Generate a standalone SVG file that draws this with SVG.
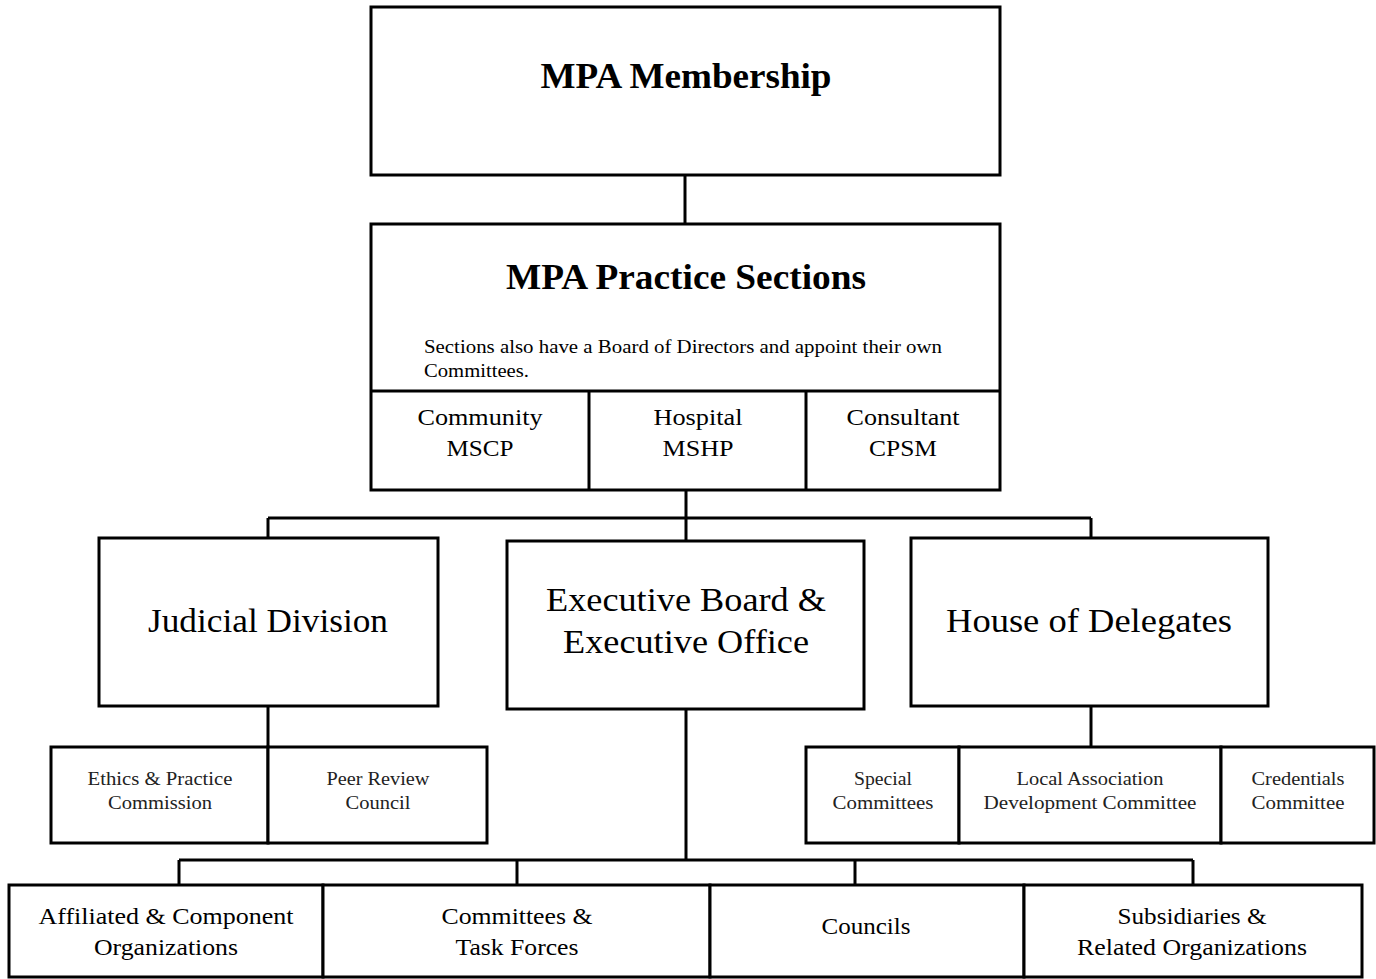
<svg xmlns="http://www.w3.org/2000/svg" width="1376" height="979" viewBox="0 0 1376 979">
<style>
.box{fill:#fff;stroke:#000;stroke-width:3}
.ln{fill:none;stroke:#000;stroke-width:3}
text{font-family:"Liberation Serif","Times New Roman",serif;fill:#000;text-anchor:middle}
.h1{font-size:36px;font-weight:bold}
.h2{font-size:34px}
.m{font-size:24px}
.s{font-size:18px;fill:#222}
.n{font-size:18px;text-anchor:start}
</style>
<rect width="1376" height="979" fill="#fff"/>
<g id="connectors">
<path class="ln" d="M685 175V224"/>
<path class="ln" d="M686 490V518M268 518H1091M268 518V538M686 518V541M1091 518V538"/>
<path class="ln" d="M268 706V747"/>
<path class="ln" d="M1091 706V747"/>
<path class="ln" d="M686 709V860M179 860H1193M179 860V885M517 860V885M855 860V885M1193 860V885"/>
</g>
<g id="membership">
<rect class="box" x="371" y="7" width="629" height="168"/>
<text class="h1" x="686" y="88" textLength="291" lengthAdjust="spacingAndGlyphs">MPA Membership</text>
</g>
<g id="practice-sections">
<rect class="box" x="371" y="224" width="629" height="266"/>
<path class="ln" d="M371 391H1000M589 391V490M806 391V490"/>
<text class="h1" x="686" y="289" textLength="360" lengthAdjust="spacingAndGlyphs">MPA Practice Sections</text>
<text class="n" x="424" y="353" textLength="518" lengthAdjust="spacingAndGlyphs">Sections also have a Board of Directors and appoint their own</text>
<text class="n" x="424" y="377" textLength="105" lengthAdjust="spacingAndGlyphs">Committees.</text>
</g>
<g id="community">
<text class="m" x="480" y="425" textLength="125" lengthAdjust="spacingAndGlyphs">Community</text>
<text class="m" x="480" y="456" textLength="67" lengthAdjust="spacingAndGlyphs">MSCP</text>
</g>
<g id="hospital">
<text class="m" x="698" y="425" textLength="89" lengthAdjust="spacingAndGlyphs">Hospital</text>
<text class="m" x="698" y="456" textLength="71" lengthAdjust="spacingAndGlyphs">MSHP</text>
</g>
<g id="consultant">
<text class="m" x="903" y="425" textLength="113" lengthAdjust="spacingAndGlyphs">Consultant</text>
<text class="m" x="903" y="456" textLength="68" lengthAdjust="spacingAndGlyphs">CPSM</text>
</g>
<g id="judicial">
<rect class="box" x="99" y="538" width="339" height="168"/>
<text class="h2" x="268" y="632" textLength="240" lengthAdjust="spacingAndGlyphs">Judicial Division</text>
</g>
<g id="executive">
<rect class="box" x="507" y="541" width="357" height="168"/>
<text class="h2" x="686" y="611" textLength="280" lengthAdjust="spacingAndGlyphs">Executive Board &amp;</text>
<text class="h2" x="686" y="653" textLength="246" lengthAdjust="spacingAndGlyphs">Executive Office</text>
</g>
<g id="house">
<rect class="box" x="911" y="538" width="357" height="168"/>
<text class="h2" x="1089" y="632" textLength="286" lengthAdjust="spacingAndGlyphs">House of Delegates</text>
</g>
<g id="ethics">
<rect class="box" x="51" y="747" width="217" height="96"/>
<text class="s" x="160" y="785" textLength="145" lengthAdjust="spacingAndGlyphs">Ethics &amp; Practice</text>
<text class="s" x="160" y="809" textLength="104" lengthAdjust="spacingAndGlyphs">Commission</text>
</g>
<g id="peer-review">
<rect class="box" x="268" y="747" width="219" height="96"/>
<text class="s" x="378" y="785" textLength="103" lengthAdjust="spacingAndGlyphs">Peer Review</text>
<text class="s" x="378" y="809" textLength="65" lengthAdjust="spacingAndGlyphs">Council</text>
</g>
<g id="special">
<rect class="box" x="806" y="747" width="153" height="96"/>
<text class="s" x="883" y="785" textLength="58" lengthAdjust="spacingAndGlyphs">Special</text>
<text class="s" x="883" y="809" textLength="101" lengthAdjust="spacingAndGlyphs">Committees</text>
</g>
<g id="local">
<rect class="box" x="959" y="747" width="262" height="96"/>
<text class="s" x="1090" y="785" textLength="147" lengthAdjust="spacingAndGlyphs">Local Association</text>
<text class="s" x="1090" y="809" textLength="213" lengthAdjust="spacingAndGlyphs">Development Committee</text>
</g>
<g id="credentials">
<rect class="box" x="1221" y="747" width="153" height="96"/>
<text class="s" x="1298" y="785" textLength="93" lengthAdjust="spacingAndGlyphs">Credentials</text>
<text class="s" x="1298" y="809" textLength="93" lengthAdjust="spacingAndGlyphs">Committee</text>
</g>
<g id="affiliated">
<rect class="box" x="9" y="885" width="314" height="92"/>
<text class="m" x="166" y="924" textLength="255" lengthAdjust="spacingAndGlyphs">Affiliated &amp; Component</text>
<text class="m" x="166" y="955" textLength="144" lengthAdjust="spacingAndGlyphs">Organizations</text>
</g>
<g id="committees">
<rect class="box" x="323" y="885" width="387" height="92"/>
<text class="m" x="517" y="924" textLength="151" lengthAdjust="spacingAndGlyphs">Committees &amp;</text>
<text class="m" x="517" y="955" textLength="123" lengthAdjust="spacingAndGlyphs">Task Forces</text>
</g>
<g id="councils">
<rect class="box" x="710" y="885" width="314" height="92"/>
<text class="m" x="866" y="934" textLength="89" lengthAdjust="spacingAndGlyphs">Councils</text>
</g>
<g id="subsidiaries">
<rect class="box" x="1024" y="885" width="338" height="92"/>
<text class="m" x="1192" y="924" textLength="149" lengthAdjust="spacingAndGlyphs">Subsidiaries &amp;</text>
<text class="m" x="1192" y="955" textLength="230" lengthAdjust="spacingAndGlyphs">Related Organizations</text>
</g>
</svg>
